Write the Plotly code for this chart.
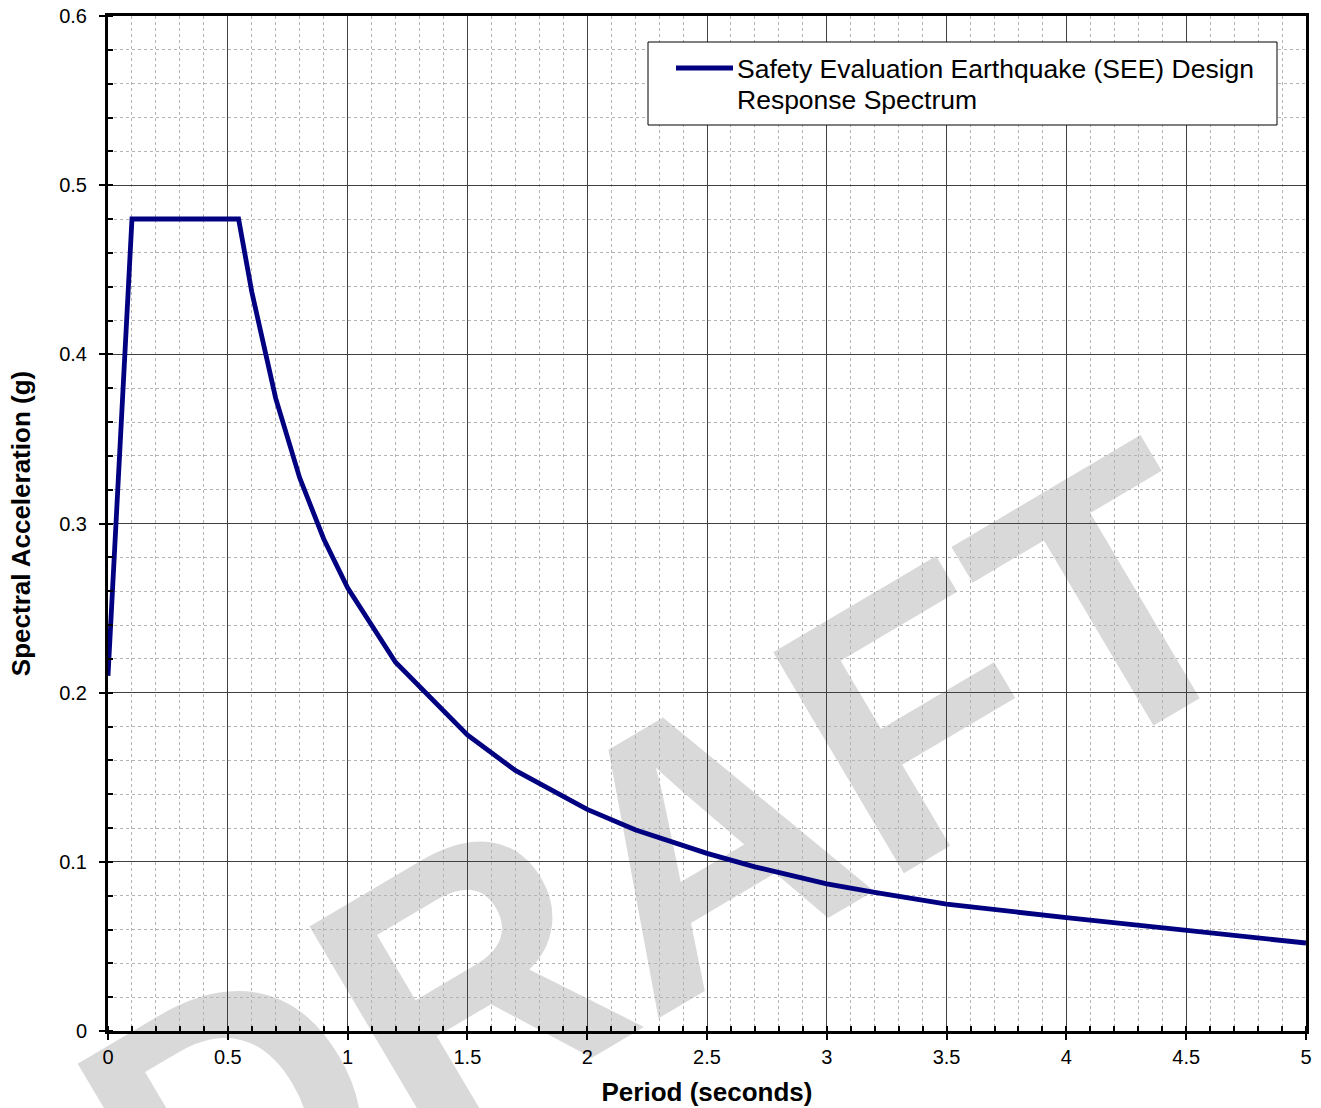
import plotly.graph_objects as go

# Data
period = [0.0, 0.1, 0.545, 0.6, 0.7, 0.8, 0.9, 1.0, 1.2, 1.5, 1.7, 2.0, 2.2, 2.5, 2.7, 3.0, 3.2, 3.5, 4.0, 5.0]
sa = [0.21, 0.48, 0.48, 0.437, 0.374, 0.327, 0.291, 0.262, 0.218, 0.175, 0.154, 0.131, 0.119, 0.105,
      0.097, 0.087, 0.082, 0.075, 0.067, 0.052]
series_name = "Safety Evaluation Earthquake (SEE) Design<br>Response Spectrum"
legend_lines = ["Safety Evaluation Earthquake (SEE) Design", "Response Spectrum"]
x_ticks = [0, 0.5, 1, 1.5, 2, 2.5, 3, 3.5, 4, 4.5, 5]
x_ticklabels = ["0", "0.5", "1", "1.5", "2", "2.5", "3", "3.5", "4", "4.5", "5"]
y_ticks = [0, 0.1, 0.2, 0.3, 0.4, 0.5, 0.6]
y_ticklabels = ["0", "0.1", "0.2", "0.3", "0.4", "0.5", "0.6"]

FONT = "Liberation Sans, Arial, sans-serif"
W, H = 1321, 1108
ML, MR, MT, MB = 108, 15, 16, 77
PW, PH = W - ML - MR, H - MT - MB
PLOT_LEFT, PLOT_BOTTOM = ML, H - MB


def px_x(px):
    return (px - PLOT_LEFT) / PW


def px_y(py):
    return (PLOT_BOTTOM - py) / PH


fig = go.Figure()
fig.add_trace(go.Scatter(
    x=period, y=sa, mode="lines", name=series_name,
    line=dict(color="#000080", width=4.8), showlegend=False,
))

axis_common = dict(
    showline=True, linecolor="black", linewidth=3, mirror=True,
    showgrid=True, gridcolor="#404040", gridwidth=1,
    ticks="outside", ticklen=6, tickwidth=1.5, tickcolor="black",
    tickfont=dict(family=FONT, size=20, color="black"),
    zeroline=False, automargin=False,
)

fig.update_xaxes(
    range=[0, 5], tickvals=x_ticks, ticktext=x_ticklabels,
    minor=dict(dtick=0.1, showgrid=True, gridcolor="#b4b4b4", griddash="dot", gridwidth=1,
               ticks="inside", ticklen=5, tickcolor="black"),
    title=dict(text="<b>Period (seconds)</b>", font=dict(family=FONT, size=26, color="black"), standoff=16),
    **axis_common,
)
fig.update_yaxes(
    range=[0, 0.6], tickvals=y_ticks, ticktext=y_ticklabels,
    ticklabelstandoff=8,
    minor=dict(dtick=0.02, showgrid=True, gridcolor="#b4b4b4", griddash="dot", gridwidth=1,
               ticks="inside", ticklen=5, tickcolor="black"),
    title=dict(text="<b>Spectral Acceleration (g)</b>", font=dict(family=FONT, size=26, color="black"), standoff=22),
    **axis_common,
)

# DRAFT watermark (behind gridlines)
cx, cy = px_x(647), px_y(834)
fig.add_shape(
    type="rect", xref="paper", yref="paper",
    x0=cx - 0.005, x1=cx + 0.005, y0=cy - 0.005, y1=cy + 0.005,
    line=dict(width=0, color="rgba(0,0,0,0)"), fillcolor="rgba(0,0,0,0)", layer="below",
    label=dict(text="<b>DRAFT</b>", textangle=-30.6, textposition="middle center",
               font=dict(family=FONT, size=373, color="#d9d9d9")),
)

# Legend box (manual)
fig.add_shape(type="rect", xref="paper", yref="paper",
              x0=px_x(648), x1=px_x(1277), y0=px_y(125), y1=px_y(42),
              line=dict(color="black", width=1), fillcolor="white", layer="above")
fig.add_shape(type="line", xref="paper", yref="paper",
              x0=px_x(676), x1=px_x(733), y0=px_y(68), y1=px_y(68),
              line=dict(color="#000080", width=4.8), layer="above")
for i, txt in enumerate(legend_lines):
    fig.add_annotation(xref="paper", yref="paper", x=px_x(735), y=px_y(69 + 31 * i),
                       xanchor="left", yanchor="middle", align="left", showarrow=False,
                       text=txt, font=dict(family=FONT, size=26.5, color="black"))

fig.update_layout(
    width=W, height=H,
    margin=dict(l=ML, r=MR, t=MT, b=MB),
    paper_bgcolor="white", plot_bgcolor="white",
    font=dict(family=FONT, color="black"),
)

fig.write_html("out.html", config={"displayModeBar": False},
               post_script="document.body.style.margin='0px';")
